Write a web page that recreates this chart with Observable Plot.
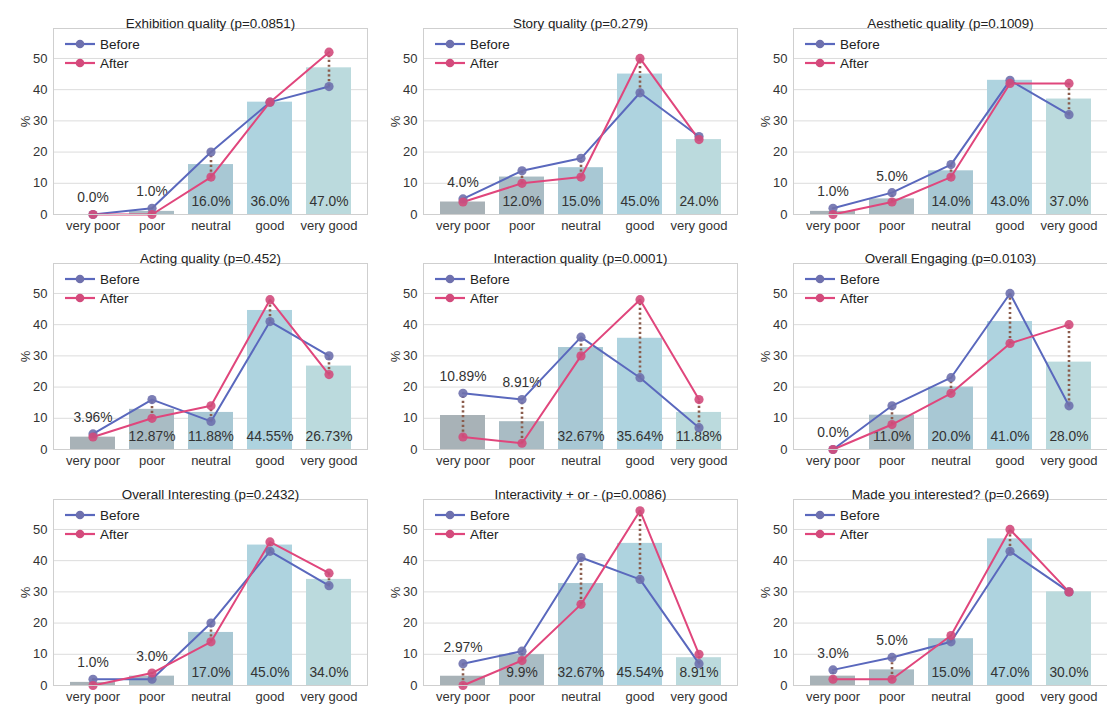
<!DOCTYPE html>
<html>
<head>
<meta charset="utf-8">
<script src="https://cdn.jsdelivr.net/npm/d3@7"></script>
<script src="https://cdn.jsdelivr.net/npm/@observablehq/plot@0.6"></script>
<style>
  html, body { margin: 0; padding: 0; background: #fff; }
  #wrap { position: relative; width: 1107px; height: 706px; overflow: hidden; }
  .panel { position: absolute; }
</style>
</head>
<body>
<div id="wrap"></div>
<script>
const categories = ["very poor", "poor", "neutral", "good", "very good"];
const titles = [
  "Exhibition quality (p=0.0851)",
  "Story quality (p=0.279)",
  "Aesthetic quality (p=0.1009)",
  "Acting quality (p=0.452)",
  "Interaction quality (p=0.0001)",
  "Overall Engaging (p=0.0103)",
  "Overall Interesting (p=0.2432)",
  "Interactivity + or - (p=0.0086)",
  "Made you interested? (p=0.2669)"
];
const barValues = [
  [0, 1, 16, 36, 47],
  [4, 12, 15, 45, 24],
  [1, 5, 14, 43, 37],
  [3.96, 12.87, 11.88, 44.55, 26.73],
  [10.89, 8.91, 32.67, 35.64, 11.88],
  [0, 11, 20, 41, 28],
  [1, 3, 17, 45, 34],
  [2.97, 9.9, 32.67, 45.54, 8.91],
  [3, 5, 15, 47, 30]
];
const beforeValues = [
  [0, 2, 20, 36, 41],
  [5, 14, 18, 39, 25],
  [2, 7, 16, 43, 32],
  [5, 16, 9, 41, 30],
  [18, 16, 36, 23, 7],
  [0, 14, 23, 50, 14],
  [2, 2, 20, 43, 32],
  [7, 11, 41, 34, 7],
  [5, 9, 14, 43, 30]
];
const afterValues = [
  [0, 0, 12, 36, 52],
  [4, 10, 12, 50, 24],
  [0, 4, 12, 42, 42],
  [4, 10, 14, 48, 24],
  [4, 2, 30, 48, 16],
  [0, 8, 18, 34, 40],
  [0, 4, 14, 46, 36],
  [0, 8, 26, 56, 10],
  [2, 2, 16, 50, 30]
];
const yTicks = [0, 10, 20, 30, 40, 50];
const seriesNames = ["Before", "After"];

const barPalette = ["#a8b2b7", "#a9bcc4", "#a8c8d4", "#aed3df", "#bbdadd"];
const beforeColor = "#5a68bd";
const afterColor = "#e0467c";
const beforeDot = "#6e70ad";
const afterDot = "#d24b7c";
const font = "'Liberation Sans', Arial, Helvetica, sans-serif";

const W = 367, H = 235;
const colLeft = [0, 370, 740];
const rowTop = [0, 235, 471];

function fmt(v) { return (Number.isInteger(v) ? v.toFixed(1) : String(v)) + "%"; }

const wrap = document.getElementById("wrap");

titles.forEach((title, i) => {
  const rows = categories.map((c, j) => {
    const bar = barValues[i][j], b = beforeValues[i][j], a = afterValues[i][j];
    const top = Math.max(b, a);
    const outside = bar < 8 || (bar < 15 && top > bar + 5);
    return {
      cat: c, bar, before: b, after: a,
      label: fmt(bar),
      labelY: outside ? Math.max(bar, top) + 5.3 : 4.3,
      lo: Math.min(b, a), hi: Math.max(b, a)
    };
  });

  const chart = Plot.plot({
    width: W, height: H,
    marginLeft: 53, marginRight: 0, marginTop: 28, marginBottom: 21,
    style: { fontFamily: font, fontSize: "13px", color: "#333", background: "transparent", overflow: "visible" },
    x: { domain: categories, paddingInner: 0.24, paddingOuter: 0.275, label: null, tickSize: 0, tickPadding: 6 },
    y: { domain: [0, 59.6], ticks: yTicks, tickSize: 0, tickPadding: 6, label: "%", labelAnchor: "center", labelOffset: 33, labelArrow: "none" },
    color: { domain: categories, range: barPalette },
    marks: [
      Plot.ruleY(yTicks, { stroke: "#dcdcdc", strokeWidth: 1 }),
      Plot.barY(rows, { x: "cat", y: "bar", fill: "cat" }),
      Plot.text(rows, { x: "cat", y: "labelY", text: "label", fill: "#333", fontSize: 13.8 }),
      Plot.lineY(rows, { x: "cat", y: "before", stroke: beforeColor, strokeWidth: 2 }),
      Plot.lineY(rows, { x: "cat", y: "after", stroke: afterColor, strokeWidth: 2 }),
      Plot.ruleX(rows.filter(d => d.hi - d.lo > 0), { x: "cat", y1: "lo", y2: "hi", stroke: "#8a5c4c", strokeWidth: 2.6, strokeDasharray: "2.2,2.6" }),
      Plot.dot(rows, { x: "cat", y: "before", r: 4.6, fill: beforeDot, fillOpacity: 0.9, stroke: "none" }),
      Plot.dot(rows, { x: "cat", y: "after", r: 4.6, fill: afterDot, fillOpacity: 0.9, stroke: "none" }),
      Plot.frame({ stroke: "#cfcfcf", strokeWidth: 1 }),
      Plot.text([title], { frameAnchor: "top", dy: -10, fontSize: 13.4, fill: "#222" })
    ]
  });

  // legend
  const svg = d3.select(chart);
  const leg = [[seriesNames[0], beforeColor, beforeDot, 44], [seriesNames[1], afterColor, afterDot, 63]];
  const g = svg.append("g").attr("font-family", font).attr("font-size", 13.5).attr("text-anchor", "start");
  leg.forEach(([name, lc, dc, y]) => {
    g.append("line").attr("x1", 65).attr("x2", 95).attr("y1", y).attr("y2", y)
      .attr("stroke", lc).attr("stroke-width", 2.2);
    g.append("circle").attr("cx", 80).attr("cy", y).attr("r", 4.3).attr("fill", dc);
    g.append("text").attr("x", 100).attr("y", y).attr("dy", "0.35em").attr("fill", "#222").text(name);
  });

  const div = document.createElement("div");
  div.className = "panel";
  div.style.left = colLeft[i % 3] + "px";
  div.style.top = rowTop[Math.floor(i / 3)] + "px";
  div.appendChild(chart);
  wrap.appendChild(div);
});
</script>
</body>
</html>
